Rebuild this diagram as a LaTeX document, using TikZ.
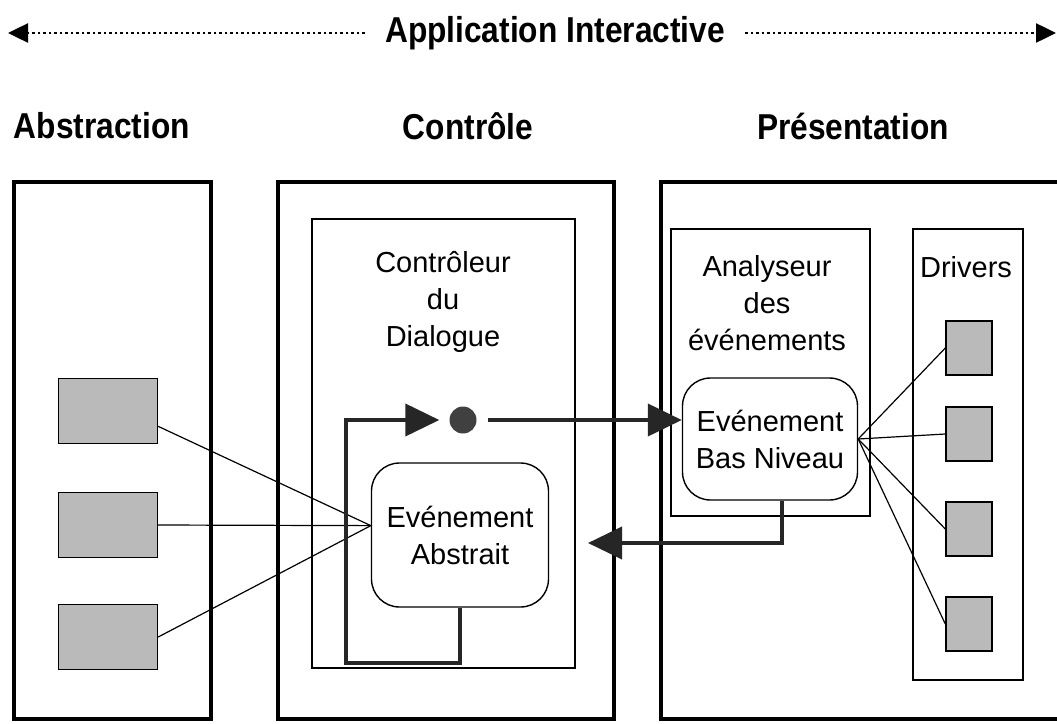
\documentclass[tikz,border=0pt]{standalone}
\usepackage{fontspec}
\setmainfont{Liberation Sans}
\newfontfamily\headfont[FakeStretch=0.88]{Liberation Sans}
\usetikzlibrary{arrows.meta}

\begin{document}
\begin{tikzpicture}[x=1pt,y=-1pt,
    frame/.style={draw,line width=4pt},
    inner/.style={draw,line width=1.4pt},
    head/.style={font=\headfont\bfseries\fontsize{36}{40}\selectfont,inner sep=0pt},
    txt/.style={font=\fontsize{29}{37}\selectfont,align=center,inner sep=0pt},
    event/.style={draw,line width=1.4pt,rounded corners=28pt,txt},
    cell/.style={draw,line width=1.4pt,fill=black!27,inner sep=0pt},
    flow/.style={line width=4pt,draw=black!85,-{Triangle[length=34pt,width=32pt]}},
    dots/.style={line width=2.5pt,dash pattern=on 2.5pt off 3pt,shorten <=20pt,-{Triangle[length=20pt,width=19pt]}},
    link/.style={line width=1.2pt}]
    \clip (0,0) rectangle (1057,723);
    %title arrow
    \node[head] (title) at (555,33) {Application Interactive};
    \coordinate (tleft) at (8,33);
    \coordinate (tright) at (1056,33);
    \draw[dots] (title.west) -- (tleft);
    \draw[dots] (title.east) -- (tright);
    %column headers
    \node[head] (habs) at (102,126) {Abstraction};
    \node[head] (hctl) at (468,126) {Contrôle};
    \node[head] (hpres) at (853,126) {Présentation};
    %column frames
    \draw[frame] (14,182) rectangle (211,719);
    \draw[frame] (278,182) rectangle (614,719);
    \draw[frame] (661,182) rectangle (1075,719);
    %inner boxes
    \draw[inner] (312,219) rectangle (575,668);
    \draw[inner] (671,229) rectangle (870,516);
    \draw[inner] (913,229) rectangle (1023,680);
    \node[txt] (ctltxt) at (443,302) {Contrôleur\\du\\Dialogue};
    \node[txt] (anatxt) at (767,303) {Analyseur\\des\\événements};
    \node[txt] (drvtxt) at (966,267) {Drivers};
    %events
    \node[event,minimum width=177pt,minimum height=144pt] (evabs) at (460,535) {Evénement\\Abstrait};
    \node[event,minimum width=175pt,minimum height=122pt] (evbas) at (770,439) {Evénement\\Bas Niveau};
    \node[circle,fill=black!75,minimum size=27pt,inner sep=0pt] (dot) at (463,420) {};
    %gray cells
    \foreach \y [count=\i] in {411,525,637}
        {%
            \node[cell,minimum width=99pt,minimum height=65pt] (ab\i) at (108,\y) {};
        }
    \foreach \y [count=\i] in {348,434,529,624}
        {%
            \node[cell,minimum width=46pt,minimum height=54pt] (dr\i) at (969,\y) {};
        }
    %links
    \draw[link] (ab1.-17) -- (evabs.174);
    \draw[link] (ab2.east) -- (evabs.174);
    \draw[link] (ab3.east) -- (evabs.174);
    \foreach \i in {1,...,4}
        \draw[link] (evbas.east) -- (dr\i.west);
    %flow
    \coordinate (loopbl) at (346,663);
    \coordinate (retend) at (588,543);
    \draw[flow,shorten >=10pt] (evabs.south) |- (loopbl) |- (dot.west);
    \draw[flow,shorten <=11pt] (dot.east) -- (dot.east -| evbas.west);
    \draw[flow] ([xshift=12pt]evbas.south) |- (retend);
\end{tikzpicture}
\end{document}
